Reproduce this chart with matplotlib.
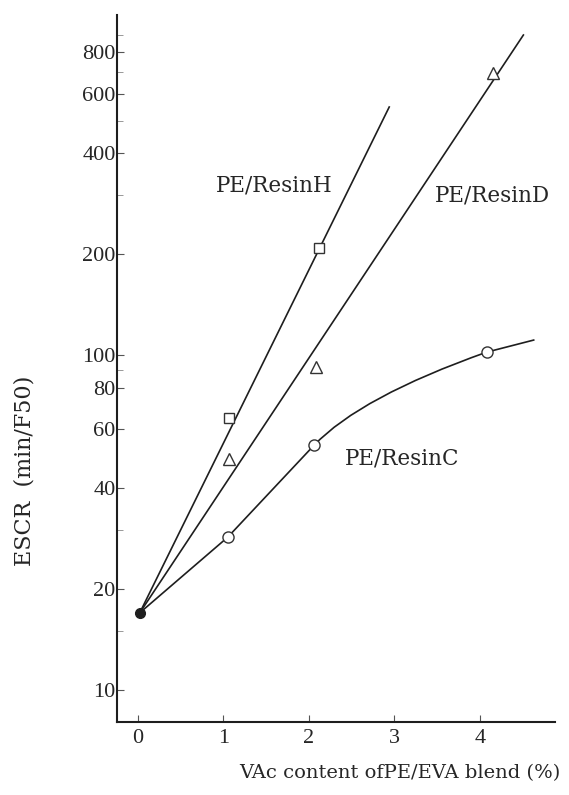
import matplotlib
matplotlib.use("Agg")
import matplotlib.pyplot as plt
from matplotlib.path import Path
from matplotlib.patches import PathPatch
from matplotlib.ticker import FixedLocator, NullFormatter

# values
base_x = [0.02]
base_y = [17]

resin_h_x = [1.07, 2.12]
resin_h_y = [65, 208]
resin_h_line_x = [0.02, 2.94]
resin_h_line_y = [17, 550]

resin_d_x = [1.07, 2.08, 4.16]
resin_d_y = [49, 92, 695]
resin_d_line_x = [0.02, 4.51]
resin_d_line_y = [17, 902]

resin_c_x = [1.05, 2.06, 4.08]
resin_c_y = [28.6, 53.8, 102]
# hand-drawn curve for ResinC: base -> circles, bend point, end
resin_c_bend = (2.6, 75)
resin_c_end = (4.64, 111)

y_major = [10, 20, 40, 60, 80, 100, 200, 400, 600, 800]
y_minor = [15, 30, 90, 300, 500, 700, 900]
x_major = [0, 1, 2, 3, 4]

plt.rcParams['font.family'] = ['DejaVu Serif']
ink = '#1e1e1e'
txt = '#262626'

fig = plt.figure(figsize=(5.69, 7.95), dpi=100)
ax = fig.add_axes([117 / 569, 73 / 795, (555 - 117) / 569, (780 - 73) / 795])

ax.set_yscale('log')
ax.set_xlim(-0.246, 4.88)
ax.set_ylim(8.03, 1035)

ax.plot(resin_h_line_x, resin_h_line_y, color=ink, lw=1.2, zorder=2)
ax.plot(resin_d_line_x, resin_d_line_y, color=ink, lw=1.2, zorder=2)

verts = [(base_x[0], base_y[0]),
         (resin_c_x[0], resin_c_y[0]),
         (resin_c_x[1], resin_c_y[1]),
         resin_c_bend,
         (resin_c_x[2], resin_c_y[2]),
         resin_c_end]
codes = [Path.MOVETO, Path.LINETO, Path.LINETO, Path.CURVE3, Path.CURVE3, Path.LINETO]
ax.add_patch(PathPatch(Path(verts, codes), fill=False, edgecolor=ink, lw=1.2, zorder=2))

ax.plot(resin_h_x, resin_h_y, ls='none', marker='s', ms=7.5, mfc='white',
        mec='#333333', mew=1.0, zorder=3)
ax.plot(resin_d_x, resin_d_y, ls='none', marker='^', ms=8.5, mfc='white',
        mec='#333333', mew=1.0, zorder=3)
ax.plot(resin_c_x, resin_c_y, ls='none', marker='o', ms=8, mfc='white',
        mec='#333333', mew=1.0, zorder=3)
ax.plot(base_x, base_y, ls='none', marker='o', ms=7, mfc=ink, mec=ink, zorder=4)

ax.text(1.60, 321, 'PE/ResinH', fontsize=15.5, ha='center', va='center', color=txt)
ax.text(4.15, 300, 'PE/ResinD', fontsize=15.5, ha='center', va='center', color=txt)
ax.text(3.09, 49, 'PE/ResinC', fontsize=15.5, ha='center', va='center', color=txt)

for s in ['top', 'right']:
    ax.spines[s].set_visible(False)
for s in ['left', 'bottom']:
    ax.spines[s].set_linewidth(1.5)
    ax.spines[s].set_color(ink)

ax.yaxis.set_major_locator(FixedLocator(y_major))
ax.yaxis.set_minor_locator(FixedLocator(y_minor))
ax.yaxis.set_minor_formatter(NullFormatter())
ax.set_yticklabels([str(v) for v in y_major], family='Liberation Serif')
ax.set_xticks(x_major)
ax.set_xticklabels([str(v) for v in x_major], family='Liberation Serif')

ax.tick_params(axis='both', which='major', direction='in', length=5, width=0.8,
               colors='#555555', labelcolor=txt, labelsize=16, pad=1)
ax.tick_params(axis='y', which='minor', direction='in', length=4, width=0.6, colors='#888888')
ax.tick_params(axis='x', which='major', pad=5)

fig.text(400 / 569, 22 / 795, 'VAc content ofPE/EVA blend (%)', fontsize=14,
         ha='center', va='center', color=txt)
fig.text(25 / 569, (795 - 471) / 795, 'ESCR  (min/F50)', fontsize=16, rotation=90,
         ha='center', va='center', color=txt)

fig.savefig('out.png', dpi=100, facecolor='white')
